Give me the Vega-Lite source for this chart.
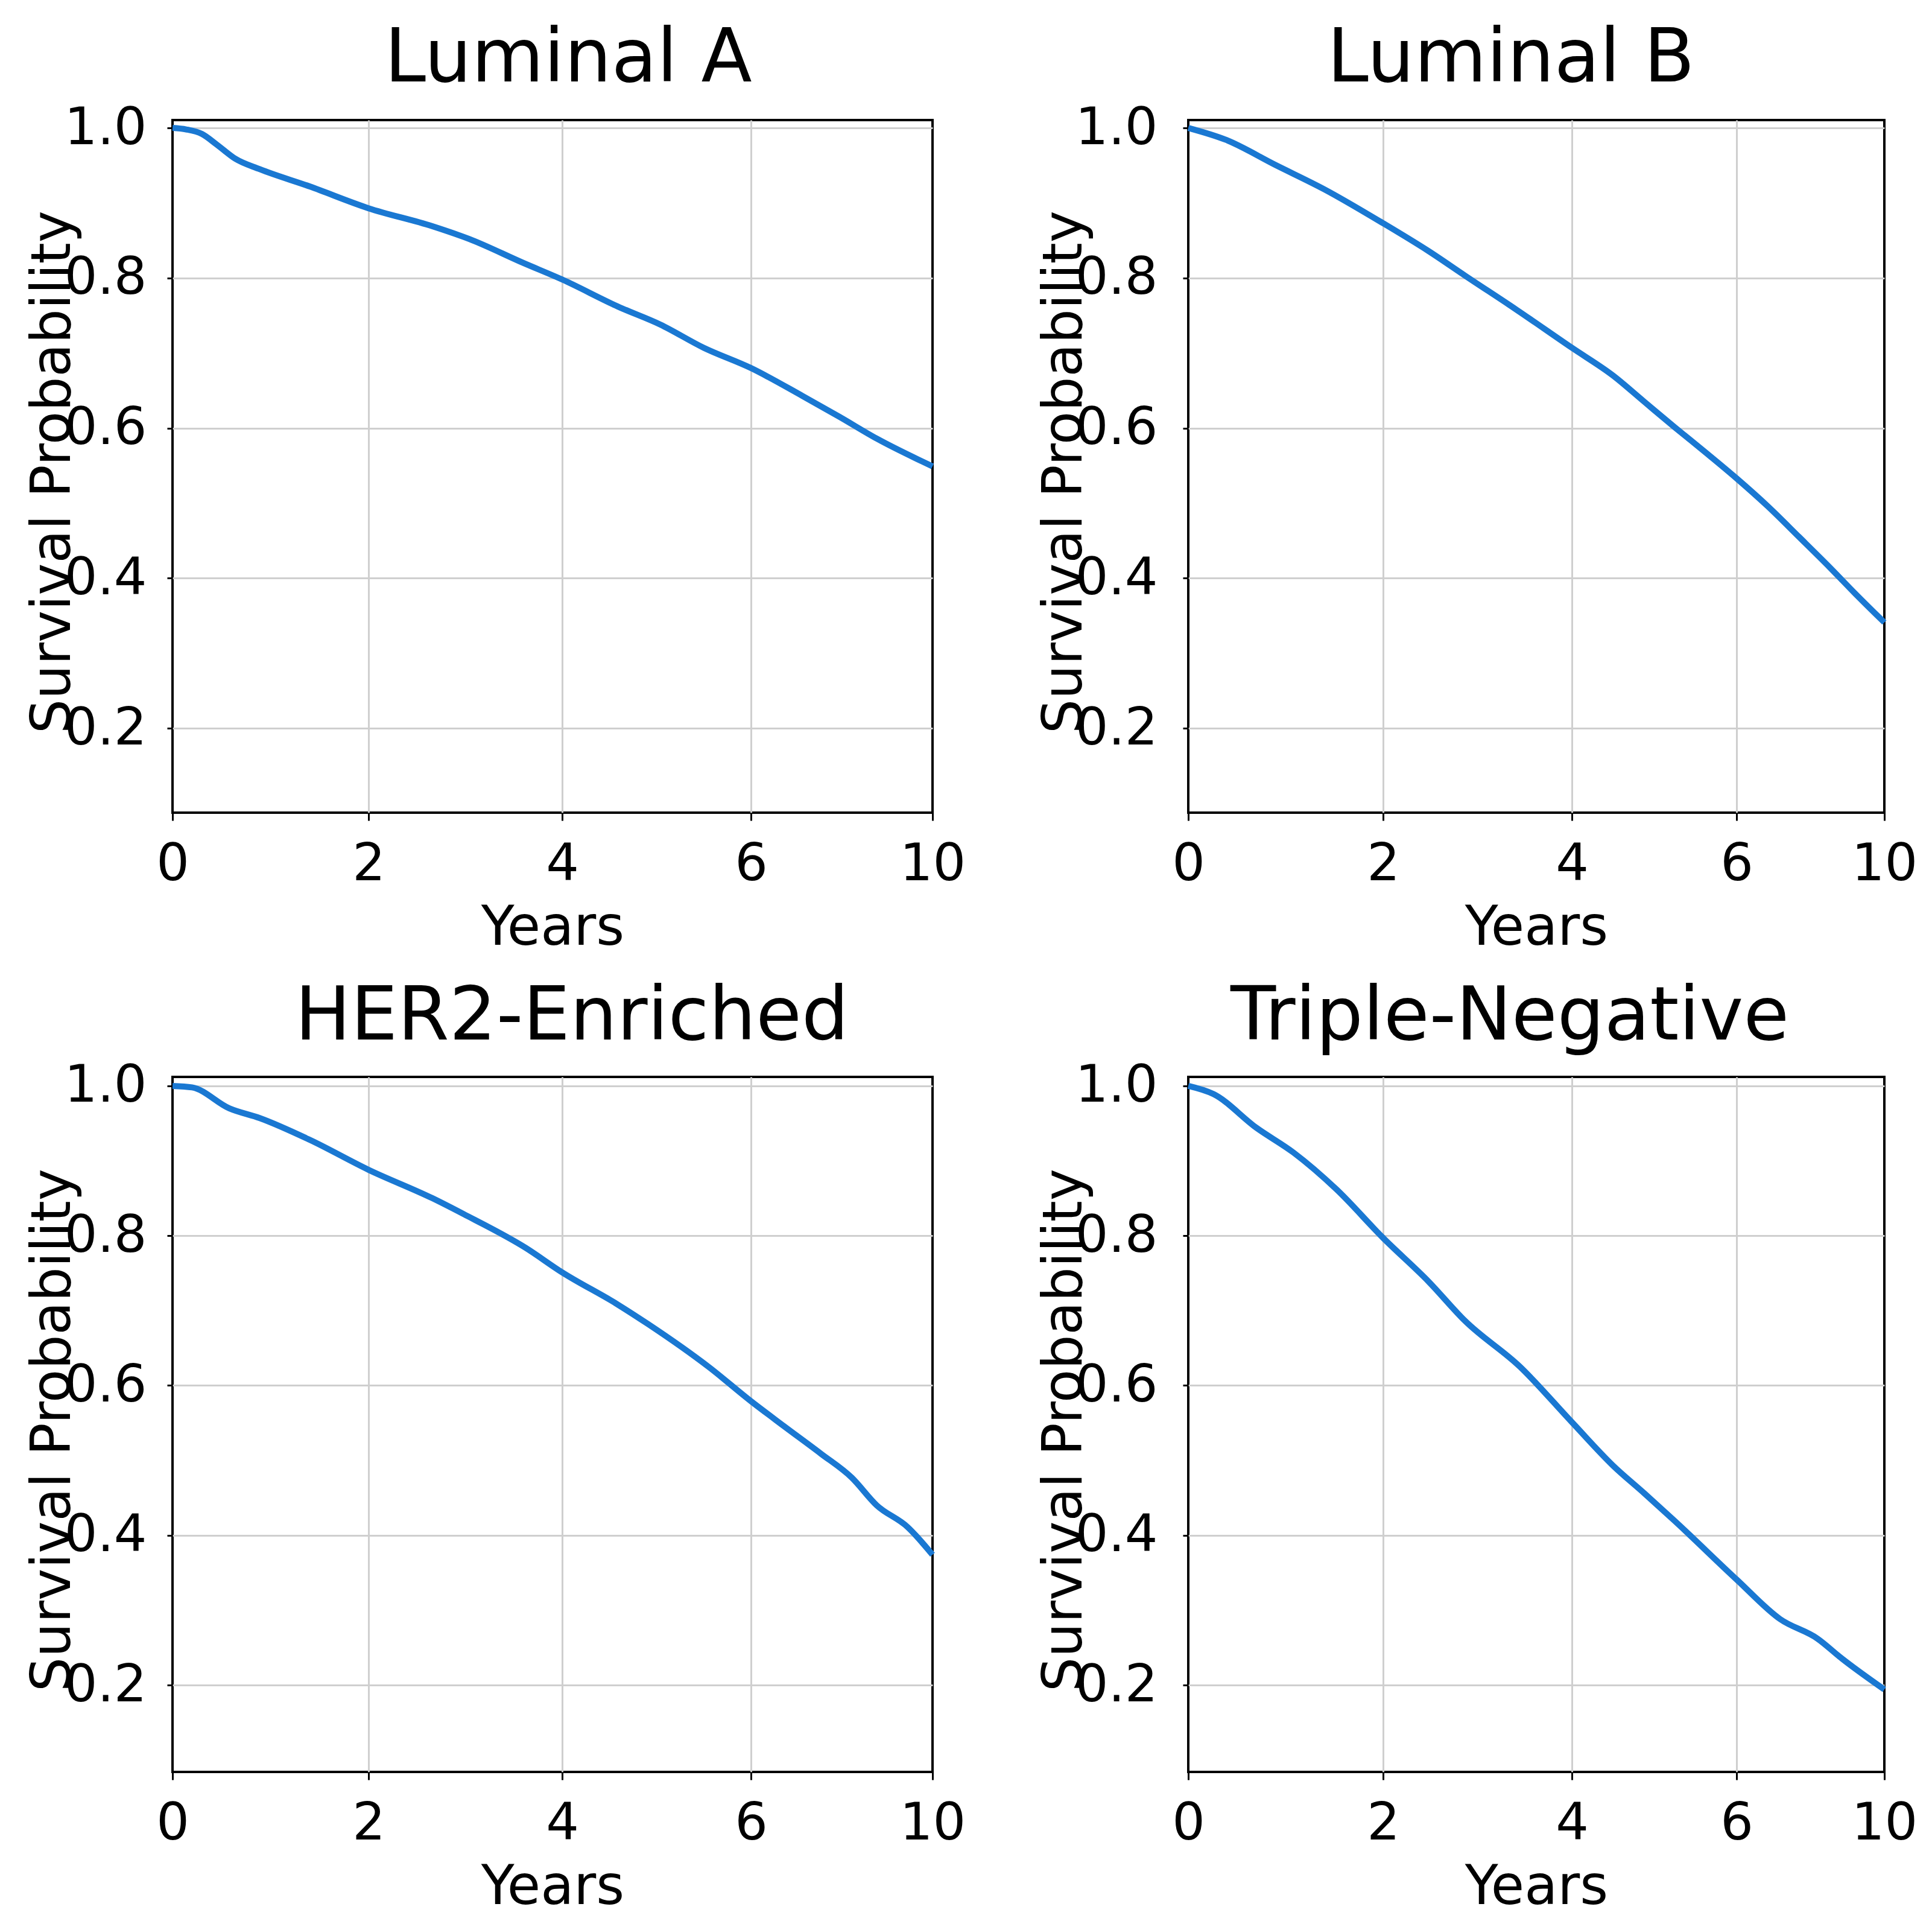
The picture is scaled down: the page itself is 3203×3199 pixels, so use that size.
{
  "$schema": "https://vega.github.io/schema/vega-lite/v6.json",
  "background": "white",
  "padding": {"left": 40, "top": 35, "right": 10, "bottom": 10},
  "data": {"values": [
    {"subtype": "Luminal A", "years": 0, "survival": 1.0},
    {"subtype": "Luminal A", "years": 0.14, "survival": 0.998},
    {"subtype": "Luminal A", "years": 0.3, "survival": 0.992},
    {"subtype": "Luminal A", "years": 0.45, "survival": 0.978},
    {"subtype": "Luminal A", "years": 0.64, "survival": 0.959},
    {"subtype": "Luminal A", "years": 0.89, "survival": 0.945},
    {"subtype": "Luminal A", "years": 1.4, "survival": 0.922},
    {"subtype": "Luminal A", "years": 2.0, "survival": 0.893},
    {"subtype": "Luminal A", "years": 2.66, "survival": 0.869},
    {"subtype": "Luminal A", "years": 3.04, "survival": 0.852},
    {"subtype": "Luminal A", "years": 3.6, "survival": 0.82},
    {"subtype": "Luminal A", "years": 4.0, "survival": 0.798},
    {"subtype": "Luminal A", "years": 4.59, "survival": 0.762},
    {"subtype": "Luminal A", "years": 5.04, "survival": 0.738},
    {"subtype": "Luminal A", "years": 5.5, "survival": 0.707},
    {"subtype": "Luminal A", "years": 6.0, "survival": 0.68},
    {"subtype": "Luminal A", "years": 7.13, "survival": 0.643},
    {"subtype": "Luminal A", "years": 7.95, "survival": 0.615},
    {"subtype": "Luminal A", "years": 8.77, "survival": 0.586},
    {"subtype": "Luminal A", "years": 10, "survival": 0.549},
    {"subtype": "Luminal B", "years": 0, "survival": 1.0},
    {"subtype": "Luminal B", "years": 0.39, "survival": 0.984},
    {"subtype": "Luminal B", "years": 0.89, "survival": 0.951},
    {"subtype": "Luminal B", "years": 1.4, "survival": 0.918},
    {"subtype": "Luminal B", "years": 2.0, "survival": 0.873},
    {"subtype": "Luminal B", "years": 2.48, "survival": 0.836},
    {"subtype": "Luminal B", "years": 2.87, "survival": 0.803},
    {"subtype": "Luminal B", "years": 3.41, "survival": 0.758},
    {"subtype": "Luminal B", "years": 4.0, "survival": 0.707},
    {"subtype": "Luminal B", "years": 4.5, "survival": 0.67},
    {"subtype": "Luminal B", "years": 4.88, "survival": 0.635},
    {"subtype": "Luminal B", "years": 5.25, "survival": 0.601},
    {"subtype": "Luminal B", "years": 5.63, "survival": 0.567},
    {"subtype": "Luminal B", "years": 6.0, "survival": 0.533},
    {"subtype": "Luminal B", "years": 6.84, "survival": 0.496},
    {"subtype": "Luminal B", "years": 7.69, "survival": 0.455},
    {"subtype": "Luminal B", "years": 8.53, "survival": 0.414},
    {"subtype": "Luminal B", "years": 9.2, "survival": 0.38},
    {"subtype": "Luminal B", "years": 10, "survival": 0.341},
    {"subtype": "HER2-Enriched", "years": 0, "survival": 1.0},
    {"subtype": "HER2-Enriched", "years": 0.2, "survival": 0.998},
    {"subtype": "HER2-Enriched", "years": 0.58, "survival": 0.97},
    {"subtype": "HER2-Enriched", "years": 0.89, "survival": 0.957},
    {"subtype": "HER2-Enriched", "years": 1.4, "survival": 0.928},
    {"subtype": "HER2-Enriched", "years": 2.0, "survival": 0.888},
    {"subtype": "HER2-Enriched", "years": 2.66, "survival": 0.85},
    {"subtype": "HER2-Enriched", "years": 2.98, "survival": 0.829},
    {"subtype": "HER2-Enriched", "years": 3.62, "survival": 0.784},
    {"subtype": "HER2-Enriched", "years": 4.0, "survival": 0.751},
    {"subtype": "HER2-Enriched", "years": 4.59, "survival": 0.708},
    {"subtype": "HER2-Enriched", "years": 4.91, "survival": 0.682},
    {"subtype": "HER2-Enriched", "years": 5.56, "survival": 0.624},
    {"subtype": "HER2-Enriched", "years": 6.0, "survival": 0.579},
    {"subtype": "HER2-Enriched", "years": 6.72, "survival": 0.546},
    {"subtype": "HER2-Enriched", "years": 7.54, "survival": 0.509},
    {"subtype": "HER2-Enriched", "years": 8.22, "survival": 0.477},
    {"subtype": "HER2-Enriched", "years": 8.77, "survival": 0.44},
    {"subtype": "HER2-Enriched", "years": 9.45, "survival": 0.411},
    {"subtype": "HER2-Enriched", "years": 10, "survival": 0.374},
    {"subtype": "Triple-Negative", "years": 0, "survival": 1.0},
    {"subtype": "Triple-Negative", "years": 0.26, "survival": 0.989},
    {"subtype": "Triple-Negative", "years": 0.7, "survival": 0.944},
    {"subtype": "Triple-Negative", "years": 1.08, "survival": 0.911},
    {"subtype": "Triple-Negative", "years": 1.52, "survival": 0.862},
    {"subtype": "Triple-Negative", "years": 2.0, "survival": 0.797},
    {"subtype": "Triple-Negative", "years": 2.48, "survival": 0.739},
    {"subtype": "Triple-Negative", "years": 2.87, "survival": 0.686},
    {"subtype": "Triple-Negative", "years": 3.45, "survival": 0.625},
    {"subtype": "Triple-Negative", "years": 4.0, "survival": 0.551},
    {"subtype": "Triple-Negative", "years": 4.5, "survival": 0.493},
    {"subtype": "Triple-Negative", "years": 4.88, "survival": 0.456},
    {"subtype": "Triple-Negative", "years": 5.25, "survival": 0.419},
    {"subtype": "Triple-Negative", "years": 6.0, "survival": 0.341},
    {"subtype": "Triple-Negative", "years": 7.18, "survival": 0.288},
    {"subtype": "Triple-Negative", "years": 8.19, "survival": 0.262},
    {"subtype": "Triple-Negative", "years": 8.86, "survival": 0.235},
    {"subtype": "Triple-Negative", "years": 10, "survival": 0.194}
  ]},
  "columns": 2,
  "bounds": "flush",
  "spacing": {"row": 438, "column": 424},
  "config": {
    "font": "DejaVu Sans",
    "view": {"stroke": "black", "strokeWidth": 4},
    "axis": {
      "labelFont": "DejaVu Sans", "titleFont": "DejaVu Sans",
      "labelFontSize": 86, "titleFontSize": 90,
      "labelColor": "black", "titleColor": "black",
      "titleFontWeight": "normal",
      "tickColor": "black", "tickWidth": 3,
      "gridColor": "#cfcfcf", "gridWidth": 3,
      "domain": false, "labelFlush": false, "labelOverlap": false, "labelBound": false
    },
    "axisX": {"tickSize": 13, "labelPadding": 98, "labelBaseline": "alphabetic", "titleY": 218, "titleBaseline": "alphabetic",
              "gridColor": {"condition": {"test": "datum.value === 0 || datum.value === 10", "value": "black"}, "value": "#cfcfcf"}},
    "axisY": {"tickSize": 9, "labelBaseline": "middle", "titleAngle": 270, "titleBaseline": "alphabetic", "titleAlign": "center"},
    "title": {"font": "DejaVu Sans", "fontSize": 123, "fontWeight": "normal", "color": "black", "baseline": "alphabetic", "offset": 8, "frame": "group", "anchor": "middle"},
    "line": {"color": "#1a78d2", "strokeWidth": 10, "interpolate": "monotone"}
  },
  "concat": [
    {
      "title": {"text": "Luminal A", "dx": 26},
      "width": 1260, "height": 1148,
      "transform": [{"filter": "datum.subtype === 'Luminal A'"}],
      "mark": {"type": "line"},
      "encoding": {
        "x": {"field": "years", "type": "quantitative", "title": "Years",
              "scale": {"type": "linear", "domain": [0, 2, 4, 6, 10], "range": [0, 325, 646, 959, 1260], "nice": false, "zero": false},
              "axis": {"values": [0, 2, 4, 6, 10], "format": "d"}},
        "y": {"field": "survival", "type": "quantitative", "title": "Survival Probability",
              "scale": {"domain": [0.0875, 1.0105], "nice": false, "zero": false},
              "axis": {"values": [0.2, 0.4, 0.6, 0.8, 1.0], "format": ".1f", "labelPadding": 34, "titleX": -171, "titleY": 583}}
      }
    },
    {
      "title": {"text": "Luminal B", "dx": -42},
      "width": 1154, "height": 1148,
      "transform": [{"filter": "datum.subtype === 'Luminal B'"}],
      "mark": {"type": "line"},
      "encoding": {
        "x": {"field": "years", "type": "quantitative", "title": "Years",
              "scale": {"type": "linear", "domain": [0, 2, 4, 6, 10], "range": [0, 323, 636, 909, 1154], "nice": false, "zero": false},
              "axis": {"values": [0, 2, 4, 6, 10], "format": "d"}},
        "y": {"field": "survival", "type": "quantitative", "title": "Survival Probability",
              "scale": {"domain": [0.0875, 1.0105], "nice": false, "zero": false},
              "axis": {"values": [0.2, 0.4, 0.6, 0.8, 1.0], "format": ".1f", "labelPadding": 42, "titleX": -178, "titleY": 583}}
      }
    },
    {
      "title": {"text": "HER2-Enriched", "dx": 32},
      "width": 1260, "height": 1152,
      "transform": [{"filter": "datum.subtype === 'HER2-Enriched'"}],
      "mark": {"type": "line"},
      "encoding": {
        "x": {"field": "years", "type": "quantitative", "title": "Years",
              "scale": {"type": "linear", "domain": [0, 2, 4, 6, 10], "range": [0, 325, 646, 959, 1260], "nice": false, "zero": false},
              "axis": {"values": [0, 2, 4, 6, 10], "format": "d"}},
        "y": {"field": "survival", "type": "quantitative", "title": "Survival Probability",
              "scale": {"domain": [0.084, 1.012], "nice": false, "zero": false},
              "axis": {"values": [0.2, 0.4, 0.6, 0.8, 1.0], "format": ".1f", "labelPadding": 34, "titleX": -171, "titleY": 585}}
      }
    },
    {
      "title": {"text": "Triple-Negative", "dx": -44},
      "width": 1154, "height": 1152,
      "transform": [{"filter": "datum.subtype === 'Triple-Negative'"}],
      "mark": {"type": "line"},
      "encoding": {
        "x": {"field": "years", "type": "quantitative", "title": "Years",
              "scale": {"type": "linear", "domain": [0, 2, 4, 6, 10], "range": [0, 323, 636, 909, 1154], "nice": false, "zero": false},
              "axis": {"values": [0, 2, 4, 6, 10], "format": "d"}},
        "y": {"field": "survival", "type": "quantitative", "title": "Survival Probability",
              "scale": {"domain": [0.084, 1.012], "nice": false, "zero": false},
              "axis": {"values": [0.2, 0.4, 0.6, 0.8, 1.0], "format": ".1f", "labelPadding": 42, "titleX": -178, "titleY": 585}}
      }
    }
  ]
}
